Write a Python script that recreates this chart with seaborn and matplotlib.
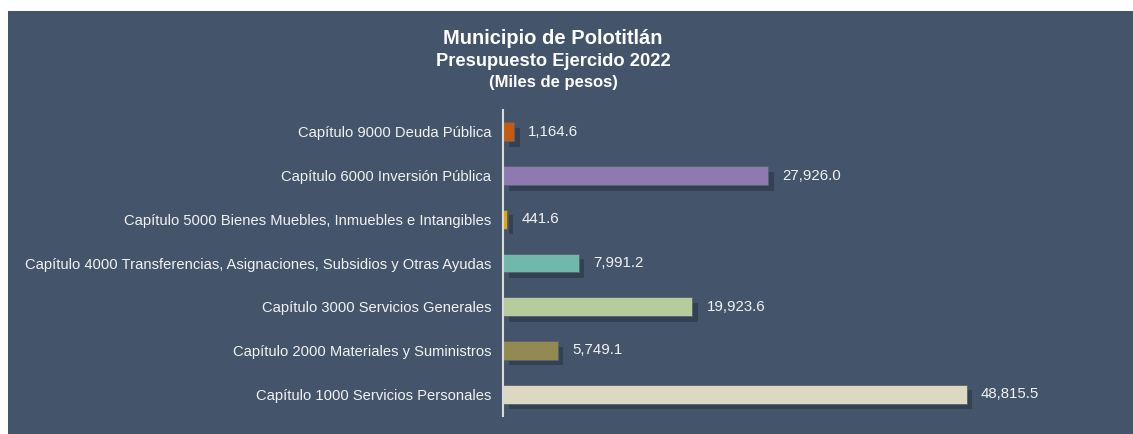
import pandas as pd
import numpy as np
import matplotlib
matplotlib.use("Agg")
import matplotlib.pyplot as plt
import matplotlib.patheffects as pe
from matplotlib.patches import Rectangle
import seaborn as sns

### Data
capitulos = [
    "Capítulo 9000 Deuda Pública",
    "Capítulo 6000 Inversión Pública",
    "Capítulo 5000 Bienes Muebles, Inmuebles e Intangibles",
    "Capítulo 4000 Transferencias, Asignaciones, Subsidios y Otras Ayudas",
    "Capítulo 3000 Servicios Generales",
    "Capítulo 2000 Materiales y Suministros",
    "Capítulo 1000 Servicios Personales",
]
montos = [1164.6, 27926.0, 441.6, 7991.2, 19923.6, 5749.1, 48815.5]
colores = ["#C55A11", "#8E7AB0", "#E0A800", "#6FB8AA", "#B6CC9C", "#938953", "#DDD8C2"]

df = pd.DataFrame({"Capitulo": capitulos, "Monto": montos})

bg = "#44546A"
txt = "#F2F2F2"

sns.set_theme(style="white")
plt.rcParams['font.family'] = ['Liberation Sans', 'DejaVu Sans']

fig = plt.figure(figsize=(11.33, 4.34), dpi=100)
fig.patch.set_facecolor("white")
fig.patches.append(Rectangle((8 / 1133, 0), 1, 423 / 434, transform=fig.transFigure,
                             facecolor=bg, edgecolor="none", zorder=-10))

ax = fig.add_axes([503 / 1133, 18 / 434, 570 / 1133, 306 / 434])
ax.set_facecolor("none")

sns.barplot(data=df, y="Capitulo", x="Monto", hue="Capitulo", palette=colores,
            orient="h", width=0.43, legend=False, ax=ax, saturation=1)

# bars with a soft drop shadow
for bar in ax.patches:
    bar.set_edgecolor("#5a6270")
    bar.set_linewidth(0.6)
    bar.set_path_effects([pe.SimplePatchShadow(offset=(4, -4), shadow_rgbFace="#1f2a38", alpha=0.45),
                          pe.Normal()])

for i, v in enumerate(montos):
    ax.text(v + 1500, i, f"{v:,.1f}", va="center", ha="left", color=txt, fontsize=10.8)

ax.set_xlim(0, 60000)
ax.set_ylim(6.5, -0.5)
ax.set_xlabel("")
ax.set_ylabel("")
ax.set_xticks([])
ax.tick_params(axis="y", length=0, pad=8.5, labelsize=10.6, labelcolor=txt)
for s in ["top", "right", "bottom"]:
    ax.spines[s].set_visible(False)
ax.spines["left"].set_color("#D9D9D9")
ax.spines["left"].set_linewidth(1.5)

fig.text(553 / 1133, 1 - 38 / 434, "Municipio de Polotitlán", ha="center", va="center",
         color="white", fontsize=14.5, fontweight="bold")
fig.text(553 / 1133, 1 - 61 / 434, "Presupuesto Ejercido 2022", ha="center", va="center",
         color="white", fontsize=13.2, fontweight="bold")
fig.text(553 / 1133, 1 - 83 / 434, "(Miles de pesos)", ha="center", va="center",
         color="white", fontsize=12, fontweight="bold")

plt.savefig("out.png", dpi=100, facecolor=fig.get_facecolor())
